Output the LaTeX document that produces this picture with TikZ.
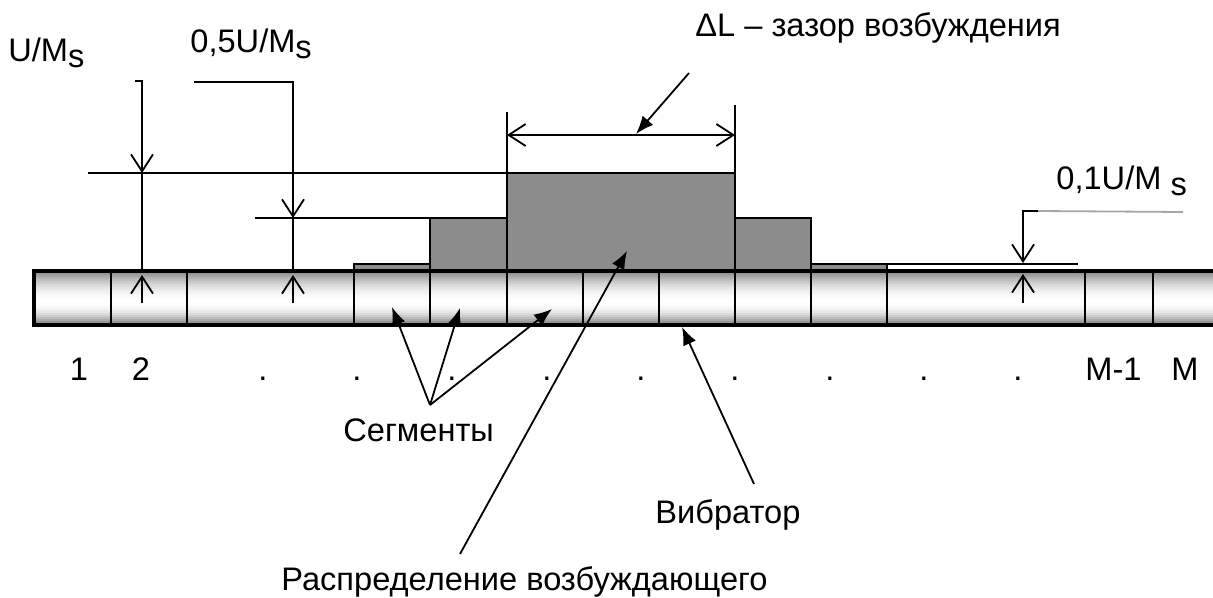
\documentclass[tikz,border=0pt]{standalone}
\usepackage{fontspec}
\setmainfont{Liberation Sans}
\usetikzlibrary{arrows.meta}
\newcommand{\lows}{\raisebox{-3pt}{s}}

\begin{document}
\begin{tikzpicture}[x=0.5pt,y=-0.5pt,
    lbl/.style={inner sep=0pt,font=\fontsize{16.3}{19}\selectfont},
    dim/.style={line width=0.9pt},
    dimtip/.style={dim,-{Straight Barb[length=8.5pt,width=11pt]}},
    dimtips/.style={dim,{Straight Barb[length=8.5pt,width=11pt]}-{Straight Barb[length=8.5pt,width=11pt]}},
    leader/.style={line width=0.9pt,-{Latex[length=9pt,width=7pt]}},
    block/.style={fill=black!45,draw=black,line width=0.8pt}]
            \useasboundingbox (0,0) rectangle (1213,598);

            % vibrator
            \foreach \i in {0,...,26}{
                \pgfmathsetmacro{\vt}{(\i+0.5)/27}
                \pgfmathsetmacro{\vk}{\vt<0.58 ? 50*((0.58-\vt)/0.58)^2 : 55*((\vt-0.58)/0.42)^2}
                \fill[black!\vk] (34,{271+2*\i}) rectangle (1213,{273.4+2*\i});
            }
            \draw[line width=2pt] (1213,271)--(34,271)--(34,325)--(1213,325);
            \draw[line width=0.9pt] (111,271)--(111,325) (187,271)--(187,325) (354,271)--(354,325)
                (430,271)--(430,325) (507,271)--(507,325) (583,271)--(583,325) (659,271)--(659,325)
                (735,271)--(735,325) (811,271)--(811,325) (887,271)--(887,325) (1085,271)--(1085,325)
                (1153,271)--(1153,325);

            % distribution
            \filldraw[block] (354,264) rectangle (430,270);
            \filldraw[block] (430,218) rectangle (507,270);
            \filldraw[block] (507,173) rectangle (735,270);
            \filldraw[block] (735,218) rectangle (811,270);
            \filldraw[block] (811,264) rectangle (887,270);

            % extension lines
            \draw[dim] (88,173)--(507,173);
            \draw[dim] (255,218)--(430,218);
            \draw[dim] (858,264)--(1078,264);
            \draw[dim] (507,112)--(507,173);
            \draw[dim] (735,105)--(735,173);

            % dimensions
            \draw[dimtip] (135,81)--(142,81)--(142,173);
            \draw[dim] (142,173)--(142,271);
            \draw[dimtip] (142,303)--(142,275);
            \draw[dimtip] (194,82)--(293,82)--(293,218);
            \draw[dim] (293,218)--(293,271);
            \draw[dimtip] (293,303)--(293,275);
            \draw[dim,black!35] (1038,211)--(1183,212);
            \draw[dimtip] (1038,211)--(1023,211)--(1023,263);
            \draw[dimtip] (1023,303)--(1023,274);
            \draw[dimtips] (507,135)--(735,135);

            % labels
            \node[lbl,anchor=base west] (um) at (8,62) {U/M\lows};
            \node[lbl,anchor=base west] (hum) at (190,53) {0,5U/M\lows};
            \node[lbl,anchor=base west] (tum) at (1056,190) {0,1U/M \lows};
            \node[lbl,anchor=base west] (dl) at (695,37) {ΔL – зазор возбуждения};

            \node[lbl,anchor=base] (n1) at (79,380) {1};
            \node[lbl,anchor=base] (n2) at (141,380) {2};
            \node[lbl,anchor=base] (d1) at (263,380) {.};
            \node[lbl,anchor=base] (d2) at (357,380) {.};
            \node[lbl,anchor=base] (d3) at (452,380) {.};
            \node[lbl,anchor=base] (d4) at (547,380) {.};
            \node[lbl,anchor=base] (d5) at (641,380) {.};
            \node[lbl,anchor=base] (d6) at (735,380) {.};
            \node[lbl,anchor=base] (d7) at (830,380) {.};
            \node[lbl,anchor=base] (d8) at (924,380) {.};
            \node[lbl,anchor=base] (d9) at (1018,380) {.};
            \node[lbl,anchor=base west] (nm1) at (1085,380) {M-1};
            \node[lbl,anchor=base west] (nm) at (1171,380) {M};

            \node[lbl,anchor=base west] (seg) at (343,441) {Сегменты};
            \node[lbl,anchor=base west] (vib) at (655,523) {Вибратор};
            \node[lbl,anchor=base west] (dist) at (281,590) {Распределение возбуждающего};

            % leaders
            \coordinate (dlfrom) at (689,73);
            \coordinate (dltip) at (636,134);
            \coordinate (segfrom) at (430,405);
            \coordinate (segtip1) at (392,307);
            \coordinate (segtip2) at (460,308);
            \coordinate (segtip3) at (552,309);
            \coordinate (vibfrom) at (754,484);
            \coordinate (vibtip) at (682,327);
            \coordinate (distfrom) at (460,554);
            \coordinate (disttip) at (627,251);

            \draw[leader] (dlfrom)--(dltip);
            \draw[leader] (segfrom)--(segtip1);
            \draw[leader] (segfrom)--(segtip2);
            \draw[leader] (segfrom)--(segtip3);
            \draw[leader] (vibfrom)--(vibtip);
            \draw[leader] (distfrom)--(disttip);
        \end{tikzpicture}
\end{document}
